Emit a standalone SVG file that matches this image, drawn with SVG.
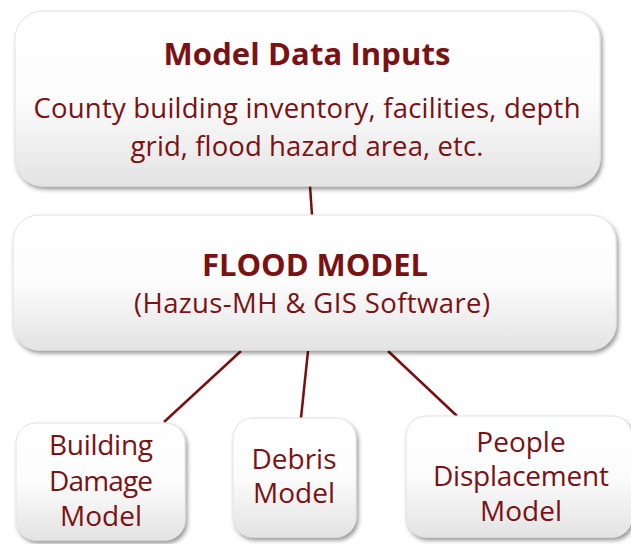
<svg xmlns="http://www.w3.org/2000/svg" width="631" height="544" viewBox="0 0 631 544">
<style>
.box{fill:url(#g);stroke:#e2e2e2;stroke-width:1;filter:url(#sh)}
.t{font-family:"Open Sans",Lato,"Liberation Sans",sans-serif;fill:#7a1214;text-anchor:middle}
.h{font-weight:bold;font-size:31px}
.b{font-size:27.5px}
.s{font-size:28px}
.c{stroke:#761012;stroke-width:2.5;fill:none}
</style>
<defs>
<linearGradient id="g" x1="0" y1="0" x2="0" y2="1">
<stop offset="0" stop-color="#ffffff"/>
<stop offset="0.5" stop-color="#fcfcfc"/>
<stop offset="1" stop-color="#e3e3e3"/>
</linearGradient>
<filter id="sh" x="-10%" y="-10%" width="120%" height="130%">
<feDropShadow dx="2" dy="3" stdDeviation="2" flood-color="#000" flood-opacity="0.4"/>
</filter>
</defs>
<rect width="631" height="544" fill="#ffffff"/>
<g id="connectors">
<line class="c" x1="310" y1="186" x2="312" y2="215"/>
<line class="c" x1="241" y1="351" x2="164" y2="422"/>
<line class="c" x1="308" y1="351" x2="301" y2="418"/>
<line class="c" x1="388" y1="351" x2="457" y2="416"/>
</g>
<g id="inputs">
<rect class="box" x="15" y="11" width="585" height="175" rx="28"/>
<text class="t h" x="307" y="65" textLength="287">Model Data Inputs</text>
<text class="t b" x="307" y="118" textLength="547">County building inventory, facilities, depth</text>
<text class="t b" x="307" y="156" textLength="353">grid, flood hazard area, etc.</text>
</g>
<g id="flood">
<rect class="box" x="13" y="215" width="603" height="135" rx="26"/>
<text class="t h" x="315" y="276" textLength="226">FLOOD MODEL</text>
<text class="t b" x="312" y="313" textLength="356">(Hazus-MH &amp; GIS Software)</text>
</g>
<g id="building">
<rect class="box" x="16" y="423" width="169" height="117" rx="20"/>
<text class="t s" x="101" y="455" textLength="104">Building</text>
<text class="t s" x="101" y="491" textLength="104">Damage</text>
<text class="t s" x="101" y="526">Model</text>
</g>
<g id="debris">
<rect class="box" x="233" y="418" width="123" height="119" rx="20"/>
<text class="t s" x="294" y="469">Debris</text>
<text class="t s" x="294" y="503">Model</text>
</g>
<g id="people">
<rect class="box" x="406" y="416" width="226" height="121" rx="20"/>
<text class="t s" x="521" y="452">People</text>
<text class="t s" x="521" y="486" textLength="176">Displacement</text>
<text class="t s" x="521" y="521">Model</text>
</g>
</svg>
